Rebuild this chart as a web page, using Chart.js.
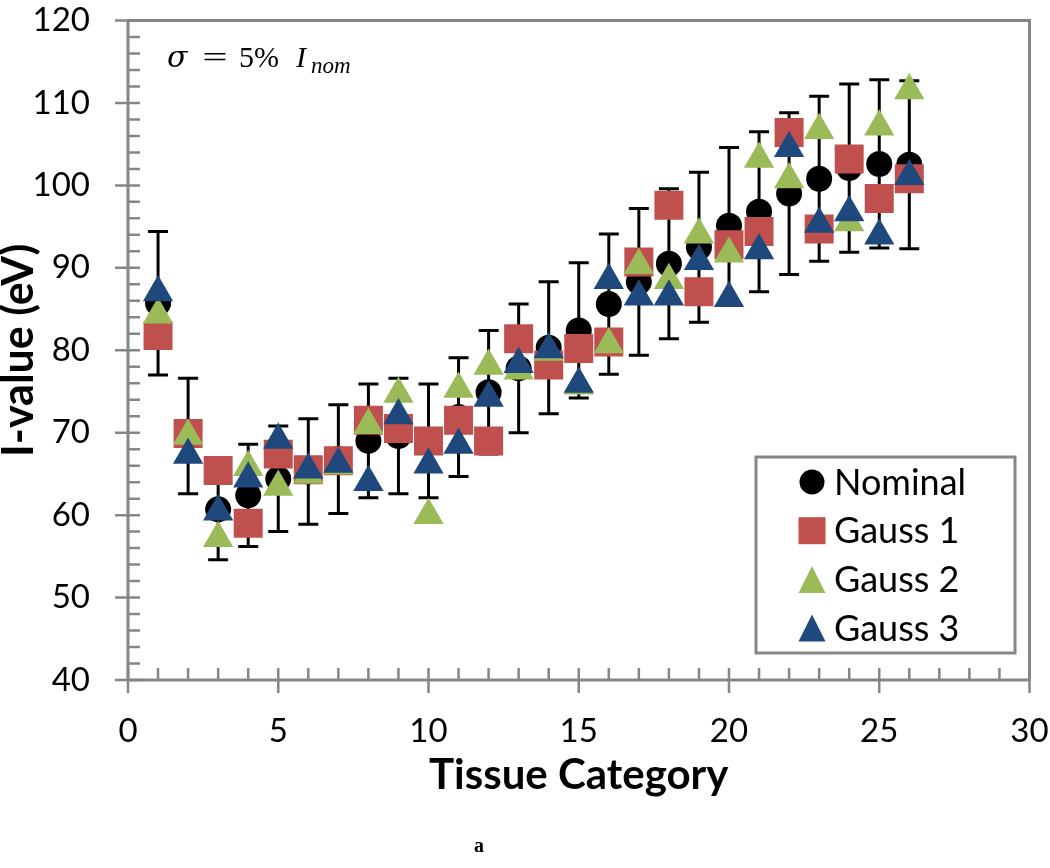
<!DOCTYPE html>
<html lang="en">
<head>
    <meta charset="UTF-8">
    <title>I-value vs Tissue Category</title>
    <script src="https://cdn.jsdelivr.net/npm/chart.js"></script>
    <style>
        body { margin: 0; background: #fff; }
    </style>
</head>
<body>
    <div style="width: 1050px; height: 868px;"><canvas id="myChart" width="1050" height="868"></canvas></div>
    <script>
        // Data
        const categories = [1, 2, 3, 4, 5, 6, 7, 8, 9, 10, 11, 12, 13, 14, 15, 16, 17, 18, 19, 20, 21, 22, 23, 24, 25, 26];
        const nominal = [85.7, 69.6, 60.7, 62.4, 64.4, 65.3, 66.8, 69.0, 69.6, 69.0, 71.9, 74.9, 77.8, 80.3, 82.4, 85.6, 88.3, 90.5, 92.5, 95.1, 96.8, 99.0, 100.8, 102.1, 102.6, 102.5];
        const nominalErr = [8.7, 7.0, 6.1, 6.2, 6.4, 6.4, 6.6, 6.9, 7.0, 6.9, 7.2, 7.5, 7.8, 8.0, 8.2, 8.5, 8.9, 9.1, 9.1, 9.5, 9.7, 9.8, 10.0, 10.2, 10.2, 10.2];
        const gauss1 = [81.8, 69.9, 65.4, 59.0, 67.4, 65.5, 66.6, 71.5, 70.5, 69.0, 71.5, 69.0, 81.4, 78.2, 80.2, 81.0, 90.7, 97.6, 87.1, 92.8, 94.4, 106.4, 94.7, 103.2, 98.4, 100.8];
        const gauss2 = [84.3, 69.6, 57.2, 65.8, 63.4, 64.9, 66.0, 70.9, 74.7, 60.0, 75.3, 78.1, 77.5, 79.8, 75.7, 80.7, 90.3, 88.5, 94.0, 91.7, 103.2, 100.7, 106.7, 95.5, 107.1, 111.5];
        const gauss3 = [87.0, 67.3, 60.4, 64.4, 69.1, 65.5, 66.2, 64.0, 72.1, 66.1, 68.5, 74.2, 78.3, 80.1, 75.9, 88.5, 86.5, 86.5, 90.8, 86.3, 92.1, 104.5, 95.3, 96.7, 93.9, 101.1];
        const seriesNames = ['Nominal', 'Gauss 1', 'Gauss 2', 'Gauss 3'];

        const axisGray = '#868686';

        function toPoints(values) {
            return categories.map((c, i) => ({ x: c, y: values[i] }));
        }

        // error bars on the nominal series, under the markers
        const errorBars = {
            id: 'errorBars',
            beforeDatasetsDraw(chart) {
                const ctx = chart.ctx;
                const ys = chart.scales.y;
                const meta = chart.getDatasetMeta(0);
                ctx.save();
                ctx.strokeStyle = '#000';
                ctx.lineWidth = 3;
                meta.data.forEach((pt, i) => {
                    const top = ys.getPixelForValue(nominal[i] + nominalErr[i]);
                    const bot = ys.getPixelForValue(nominal[i] - nominalErr[i]);
                    ctx.beginPath();
                    ctx.moveTo(pt.x, top); ctx.lineTo(pt.x, bot);
                    ctx.moveTo(pt.x - 10, top); ctx.lineTo(pt.x + 10, top);
                    ctx.moveTo(pt.x - 10, bot); ctx.lineTo(pt.x + 10, bot);
                    ctx.stroke();
                });
                ctx.restore();
            }
        };

        // plot frame with Excel-style major (cross) and minor (inside) ticks
        const frame = {
            id: 'frame',
            beforeDatasetsDraw(chart) {
                const ctx = chart.ctx;
                const xs = chart.scales.x, ys = chart.scales.y;
                const l = xs.getPixelForValue(0), r = xs.getPixelForValue(30);
                const b = ys.getPixelForValue(40), t = ys.getPixelForValue(120);
                ctx.save();
                ctx.strokeStyle = axisGray;
                ctx.lineWidth = 3;
                ctx.strokeRect(l, t, r - l, b - t);
                ctx.lineWidth = 2.5;
                ctx.beginPath();
                for (let v = 40; v <= 120; v += 2) {
                    const y = ys.getPixelForValue(v);
                    const major = v % 10 === 0;
                    ctx.moveTo(major ? l - 13 : l, y);
                    ctx.lineTo(l + 12, y);
                }
                for (let v = 0; v <= 30; v += 1) {
                    const x = xs.getPixelForValue(v);
                    const major = v % 5 === 0;
                    ctx.moveTo(x, b - 12);
                    ctx.lineTo(x, major ? b + 13 : b);
                }
                ctx.stroke();
                ctx.restore();
            }
        };

        function drawMarker(ctx, style, x, y, size) {
            ctx.beginPath();
            if (style === 'circle') {
                ctx.arc(x, y, size / 2, 0, Math.PI * 2);
            } else if (style === 'rect') {
                ctx.rect(x - size / 2, y - size / 2, size, size);
            } else {
                ctx.moveTo(x, y - size / 2);
                ctx.lineTo(x + size / 2, y + size / 2);
                ctx.lineTo(x - size / 2, y + size / 2);
                ctx.closePath();
            }
            ctx.fill();
        }

        // legend box inside the plot + sigma note + panel letter
        const extras = {
            id: 'extras',
            afterDraw(chart) {
                const ctx = chart.ctx;
                ctx.save();
                // legend
                ctx.fillStyle = '#fff';
                ctx.fillRect(756, 457, 259, 196);
                ctx.strokeStyle = axisGray;
                ctx.lineWidth = 3;
                ctx.strokeRect(756, 457, 259, 196);
                ctx.font = '36px Lato';
                ctx.textBaseline = 'middle';
                chart.data.datasets.forEach((ds, i) => {
                    const y = 482 + i * 48.7;
                    ctx.fillStyle = ds.backgroundColor;
                    drawMarker(ctx, ds.pointStyle, 812, y, ds.pointStyle === 'circle' ? 25 : 27);
                    ctx.fillStyle = '#000';
                    ctx.fillText(ds.label, 834, y + 1);
                });
                // sigma annotation
                ctx.textBaseline = 'alphabetic';
                ctx.fillStyle = '#000';
                ctx.font = 'italic 30px "DejaVu Serif"';
                ctx.fillText('\u03c3', 167, 67);
                ctx.font = '30px "Liberation Serif"';
                ctx.textAlign = 'center';
                ctx.save();
                ctx.translate(215, 0);
                ctx.scale(1.5, 1);
                ctx.fillText('=', 0, 67);
                ctx.restore();
                ctx.textAlign = 'left';
                ctx.fillText('5%', 239, 67);
                ctx.font = 'italic 30px "Liberation Serif"';
                ctx.fillText('I', 296, 67);
                ctx.font = 'italic 23px "Liberation Serif"';
                ctx.fillText('nom', 311, 73);
                // panel letter
                ctx.font = 'bold 20px "Liberation Serif"';
                ctx.textAlign = 'center';
                ctx.fillText('a', 479, 852);
                ctx.restore();
            }
        };

        const ctx = document.getElementById('myChart').getContext('2d');
        const myChart = new Chart(ctx, {
            type: 'scatter',
            data: {
                datasets: [{
                    label: seriesNames[0],
                    data: toPoints(nominal),
                    pointStyle: 'circle',
                    pointRadius: 13,
                    backgroundColor: '#000000',
                    borderWidth: 0,
                    order: 4
                }, {
                    label: seriesNames[1],
                    data: toPoints(gauss1),
                    pointStyle: 'rect',
                    pointRadius: 20.5,
                    backgroundColor: '#C0504D',
                    borderWidth: 0,
                    order: 3
                }, {
                    label: seriesNames[2],
                    data: toPoints(gauss2),
                    pointStyle: 'triangle',
                    pointRadius: 17.5,
                    backgroundColor: '#9BBB59',
                    borderWidth: 0,
                    order: 2
                }, {
                    label: seriesNames[3],
                    data: toPoints(gauss3),
                    pointStyle: 'triangle',
                    pointRadius: 17.5,
                    backgroundColor: '#1F497D',
                    borderWidth: 0,
                    order: 1
                }]
            },
            options: {
                responsive: false,
                animation: false,
                events: [],
                layout: { padding: { top: 12, right: 19, left: 0, bottom: 0 } },
                plugins: {
                    legend: { display: false },
                    tooltip: { enabled: false }
                },
                scales: {
                    x: {
                        type: 'linear',
                        min: 0,
                        max: 30,
                        grid: { display: false, drawTicks: false },
                        border: { display: false },
                        ticks: { stepSize: 5, padding: 32, color: '#000', font: { family: 'Lato', size: 33 } },
                        title: {
                            display: true,
                            text: 'Tissue Category',
                            color: '#000',
                            font: { family: 'Lato', size: 42, weight: 'bold', lineHeight: 1.2 },
                            padding: { top: 0, bottom: 67 }
                        },
                        afterFit(scale) {
                            scale.height = 188;
                            scale.paddingLeft = 0;
                            scale.paddingRight = 0;
                        }
                    },
                    y: {
                        min: 40,
                        max: 120,
                        grid: { display: false, drawTicks: false },
                        border: { display: false },
                        ticks: { stepSize: 10, padding: 38, color: '#000', font: { family: 'Lato', size: 33 } },
                        title: {
                            display: true,
                            text: 'I-value (eV)',
                            color: '#000',
                            font: { family: 'Lato', size: 43, weight: 'bold', lineHeight: 0.9 },
                            padding: { top: 0, bottom: 0 }
                        },
                        afterFit(scale) {
                            scale.width = 128;
                            scale.paddingTop = 0;
                            scale.paddingBottom = 0;
                        }
                    }
                }
            },
            plugins: [frame, errorBars, extras]
        });
    </script>
</body>
</html>
